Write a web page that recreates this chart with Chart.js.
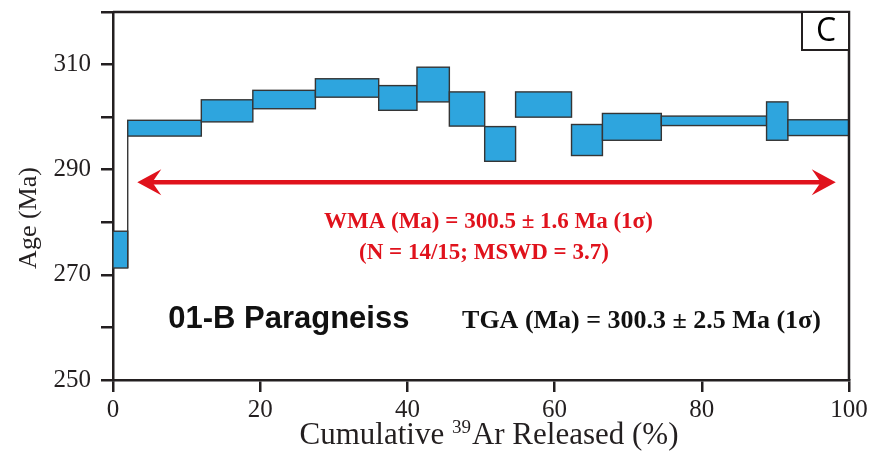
<!DOCTYPE html>
<html>
<head>
<meta charset="utf-8">
<script src="https://cdn.jsdelivr.net/npm/chart.js@4.4.1/dist/chart.umd.min.js"></script>
<style>
  html, body { margin: 0; padding: 0; background: #fff; }
  #wrap { width: 872px; height: 451px; }
</style>
</head>
<body>
<div id="wrap"><canvas id="spectrumChart"></canvas></div>
<script>
// step boundaries (cumulative 39Ar released, %)
const cumRelease = [0, 2.0, 12.0, 19.0, 27.5, 36.1, 41.3, 45.7, 50.5, 54.7, 62.3, 66.5, 74.5, 88.8, 91.7, 100];
// upper / lower age of each heating step (Ma)
const ageHigh = [278.3, 299.4, 303.3, 305.1, 307.3, 306.0, 309.5, 304.8, 298.2, 304.8, 298.6, 300.7, 300.2, 302.9, 299.5];
const ageLow  = [271.3, 296.4, 299.1, 301.6, 303.8, 301.3, 302.9, 298.3, 291.6, 300.0, 292.7, 295.6, 298.4, 295.6, 296.5];

// plateau arrow
const plateauRange = [3.3, 98.2];
const plateauArrowAge = 287.6;

const xTicks = [0, 20, 40, 60, 80, 100];
const yTicks = [250, 260, 270, 280, 290, 300, 310, 320];
const yLabels = [250, 270, 290, 310];

const wmaText = "WMA (Ma) = 300.5 \u00b1 1.6 Ma (1\u03c3)";
const wmaSub = "(N = 14/15; MSWD = 3.7)";
const sampleName = "01-B Paragneiss";
const tgaText = "TGA (Ma) = 300.3 \u00b1 2.5 Ma (1\u03c3)";
const panelLetter = "C";

const axisColor = '#231f20';
const boxFill = '#2ea5de';
const boxLine = '#353535';
const red = '#e0121c';
const serif = '"Liberation Serif", "Times New Roman", serif';

const spectrumPlugin = {
    id: 'spectrum',
    beforeDatasetsDraw(chart) {
        let ctx = chart.ctx;
        let x = chart.scales.x, y = chart.scales.y;
        ctx.save();
        for (let i = 0; i < ageHigh.length; i++) {
            let x0 = x.getPixelForValue(cumRelease[i]);
            let x1 = x.getPixelForValue(cumRelease[i + 1]);
            let y0 = y.getPixelForValue(ageHigh[i]);
            let y1 = y.getPixelForValue(ageLow[i]);
            ctx.fillStyle = boxFill;
            ctx.fillRect(x0, y0, x1 - x0, y1 - y0);
            ctx.strokeStyle = boxLine;
            ctx.lineWidth = 1.4;
            ctx.strokeRect(x0, y0, x1 - x0, y1 - y0);
        }
        ctx.restore();
    },
    afterDatasetsDraw(chart) {
        let ctx = chart.ctx;
        let x = chart.scales.x, y = chart.scales.y;
        let a = chart.chartArea;
        ctx.save();

        // arrow heads
        let ay = y.getPixelForValue(plateauArrowAge);
        let heads = [[x.getPixelForValue(plateauRange[0]), 1], [x.getPixelForValue(plateauRange[1]), -1]];
        ctx.fillStyle = red;
        heads.forEach(h => {
            let tip = h[0], d = h[1];
            ctx.beginPath();
            ctx.moveTo(tip, ay);
            ctx.lineTo(tip + d * 24, ay - 13);
            ctx.lineTo(tip + d * 15, ay);
            ctx.lineTo(tip + d * 24, ay + 13);
            ctx.closePath();
            ctx.fill();
        });

        // annotations
        ctx.textAlign = 'center';
        ctx.textBaseline = 'middle';
        ctx.fillStyle = red;
        ctx.font = 'bold 23px ' + serif;
        ctx.fillText(wmaText, x.getPixelForValue(51.0), y.getPixelForValue(280.1));
        ctx.fillText(wmaSub, x.getPixelForValue(50.4), y.getPixelForValue(274.2));

        ctx.fillStyle = '#111';
        ctx.textAlign = 'left';
        ctx.font = 'bold 31px "Liberation Sans", Arial, sans-serif';
        ctx.fillText(sampleName, x.getPixelForValue(7.5), y.getPixelForValue(261.6));
        ctx.textAlign = 'center';
        ctx.font = 'bold 26px ' + serif;
        ctx.fillText(tgaText, x.getPixelForValue(71.8), y.getPixelForValue(261.1));

        // frame top / right
        ctx.strokeStyle = axisColor;
        ctx.lineWidth = 2.5;
        ctx.beginPath();
        ctx.moveTo(a.left, a.top);
        ctx.lineTo(a.right, a.top);
        ctx.lineTo(a.right, a.bottom);
        ctx.stroke();

        // panel letter box
        ctx.fillStyle = '#fff';
        ctx.fillRect(a.right - 47, a.top, 47, 38);
        ctx.lineWidth = 2;
        ctx.strokeRect(a.right - 47, a.top, 47, 38);
        ctx.fillStyle = '#000';
        ctx.font = '32px "Open Sans", "Liberation Sans", sans-serif';
        ctx.fillText(panelLetter, a.right - 23, a.top + 20);

        // axis titles
        ctx.fillStyle = axisColor;
        ctx.font = '31px ' + serif;
        ctx.textAlign = 'left';
        ctx.textBaseline = 'alphabetic';
        let p1 = 'Cumulative ', p2 = '39', p3 = 'Ar Released (%)';
        let w1 = ctx.measureText(p1).width, w3 = ctx.measureText(p3).width;
        ctx.font = '19px ' + serif;
        let w2 = ctx.measureText(p2).width + 1;
        let tx = (a.left + a.right) / 2 - (w1 + w2 + w3) / 2 + 8;
        let ty = 444;
        ctx.font = '31px ' + serif;
        ctx.fillText(p1, tx, ty);
        ctx.font = '19px ' + serif;
        ctx.fillText(p2, tx + w1, ty - 11);
        ctx.font = '31px ' + serif;
        ctx.fillText(p3, tx + w1 + w2, ty);

        ctx.translate(29, 218);
        ctx.rotate(-Math.PI / 2);
        ctx.textAlign = 'center';
        ctx.textBaseline = 'middle';
        ctx.font = '26px ' + serif;
        ctx.fillText('Age (Ma)', 0, 0);
        ctx.restore();
    }
};

let ctx = document.getElementById('spectrumChart').getContext('2d');

new Chart(ctx, {
    type: 'line',
    data: {
        datasets: [{
            label: 'plateau',
            data: [{x: plateauRange[0] + 1.5, y: plateauArrowAge}, {x: plateauRange[1] - 1.5, y: plateauArrowAge}],
            borderColor: red,
            borderWidth: 4.5,
            pointRadius: 0,
            fill: false
        }, {
            label: 'step link',
            data: [{x: cumRelease[1], y: ageLow[0]}, {x: cumRelease[1], y: ageLow[1]}],
            borderColor: boxLine,
            borderWidth: 1.4,
            pointRadius: 0,
            fill: false
        }]
    },
    options: {
        responsive: true,
        maintainAspectRatio: false,
        animation: false,
        layout: {
            padding: { left: 0, right: 23, top: 12, bottom: 0 }
        },
        plugins: {
            legend: { display: false },
            tooltip: { enabled: false }
        },
        scales: {
            x: {
                type: 'linear',
                min: 0,
                max: 100,
                afterFit: s => { s.height = 71; },
                afterBuildTicks: s => { s.ticks = xTicks.map(v => ({value: v})); },
                ticks: {
                    color: axisColor,
                    padding: 3,
                    maxRotation: 0,
                    font: { family: serif, size: 25 }
                },
                grid: {
                    drawOnChartArea: false,
                    drawTicks: true,
                    tickLength: 12,
                    color: axisColor,
                    lineWidth: 2.5
                },
                border: { display: true, color: axisColor, width: 2.5 }
            },
            y: {
                min: 250,
                max: 320,
                afterFit: s => { s.width = 113; s.paddingTop = 0; s.paddingBottom = 0; },
                afterBuildTicks: s => { s.ticks = yTicks.map(v => ({value: v})); },
                ticks: {
                    color: axisColor,
                    padding: 10,
                    font: { family: serif, size: 25 },
                    callback: v => yLabels.includes(v) ? String(v) : ''
                },
                grid: {
                    drawOnChartArea: false,
                    drawTicks: true,
                    tickLength: 12,
                    color: axisColor,
                    lineWidth: 2.5
                },
                border: { display: true, color: axisColor, width: 2.5 }
            }
        }
    },
    plugins: [spectrumPlugin]
});
</script>
</body>
</html>
